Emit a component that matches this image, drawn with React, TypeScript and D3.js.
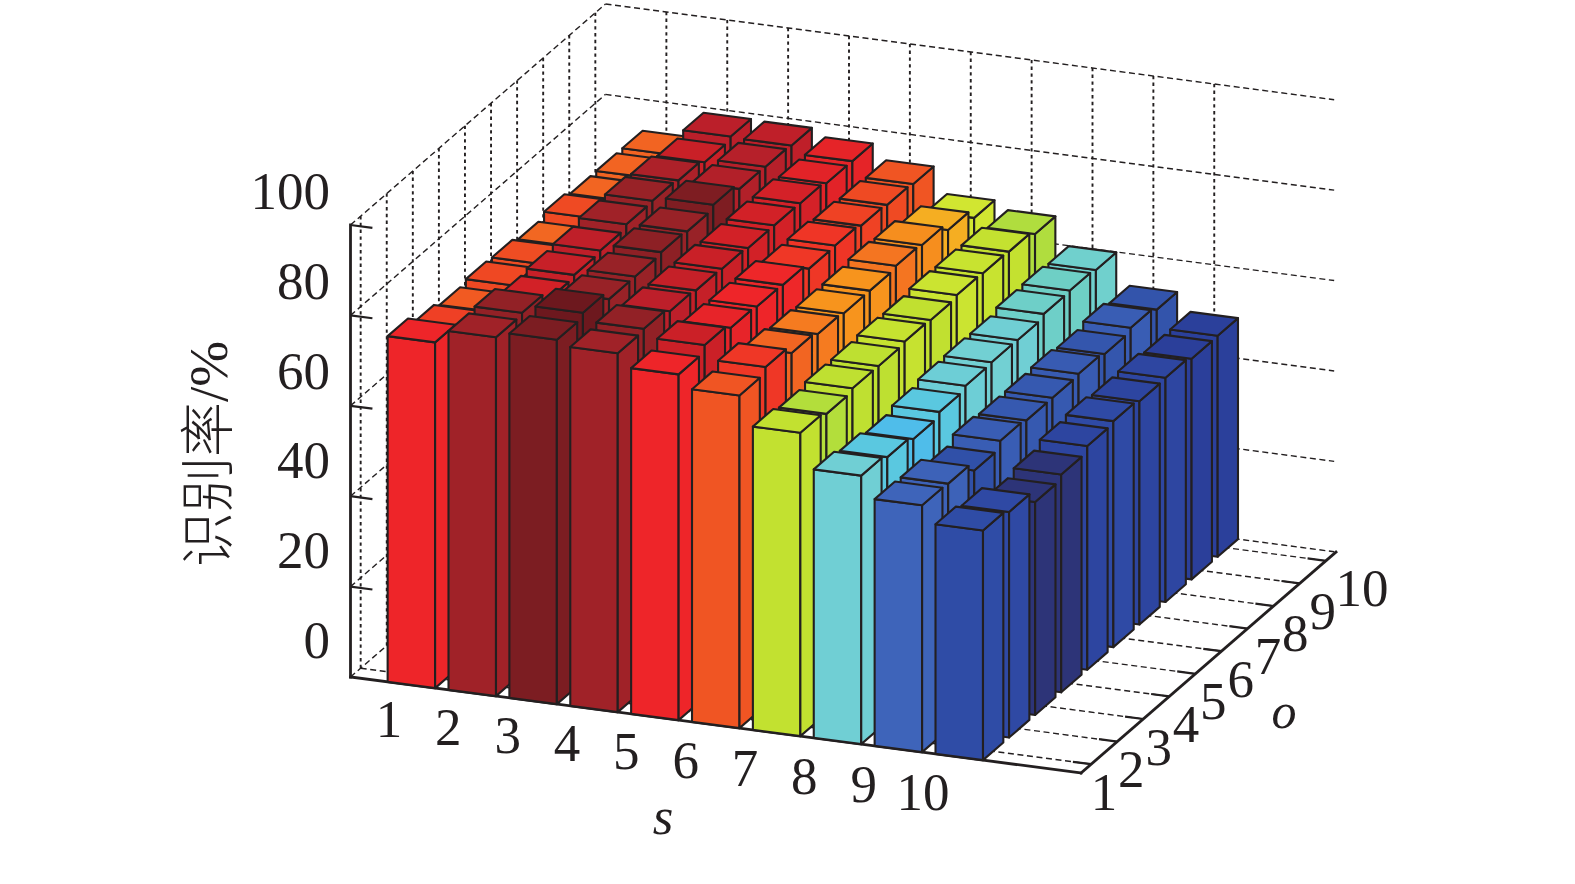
import React from "react";
import * as d3 from "d3";

// Recognition rate, one array per s, values ordered o = 1..10
const rateS1 = [76.5, 74.5, 73.4, 74.1, 73.9, 72.9, 74.0, 73.0, 73.05, 73.05];
const rateS2 = [79.4, 79.8, 77.7, 78.2, 78.6, 79.4, 79.6, 79.1, 78.1, 78.8];
const rateS3 = [80.6, 81.6, 79.6, 79.6, 80.0, 79.6, 80.5, 79.0, 78.9, 78.6];
const rateS4 = [79.4, 79.8, 78.7, 78.3, 78.1, 77.7, 77.7, 77.6, 77.0, 76.9];
const rateS5 = [76.5, 78.0, 76.8, 76.5, 76.3, 74.9, 75.0, 74.4, 74.0, 73.6];
const rateS6 = [73.6, 74.9, 73.0, 72.2, 71.8, 71.8, 72.3, 71.9, 70.2, 67.9];
const rateS7 = [67.1, 66.3, 66.95, 66.9, 67.3, 67.06, 67.6, 67.4, 67.2, 66.1];
const rateS8 = [59.4, 58.5, 57.5, 58.5, 59.3, 59.5, 59.4, 60.2, 60.35, 59.9];
const rateS9 = [54.6, 54.4, 52.3, 53.9, 53.4, 53.4, 53.7, 53.1, 53.9, 52.9];
const rateS10 = [50.8, 49.9, 47.1, 48.2, 49.5, 50.0, 49.4, 49.6, 48.8, 48.9];
const rates = [rateS1, rateS2, rateS3, rateS4, rateS5, rateS6, rateS7, rateS8, rateS9, rateS10];

const sTicks = [1, 2, 3, 4, 5, 6, 7, 8, 9, 10];
const oTicks = [1, 2, 3, 4, 5, 6, 7, 8, 9, 10];
const zTicks = [0, 20, 40, 60, 80, 100];

const colorValues = [47, 48.2, 48.8, 50, 52.5, 54.6, 57.5, 58.5, 59.5, 60.3, 66, 67, 67.9, 70.2, 71.8, 72.3, 73, 74, 75, 76.5, 78, 78.8, 79.5, 80.5, 81.6];
const colorStops = ["#2d3478", "#2d3478", "#2b3f9a", "#2f4aa5", "#3050a8", "#3e64ba", "#4fbdea", "#5ac8e0", "#72d0d3", "#6dcfc6", "#aedd3f", "#c0e030", "#d1e631", "#f5ae22", "#f7941d", "#f47521", "#f26522", "#ef4a23", "#ef3526", "#ee2529", "#cb2027", "#bb1f2a", "#9b2328", "#7e1d22", "#6d181e"];

const INK = "#231f20";
const SERIF = "'Liberation Serif', 'Times New Roman', serif";
const HALF = 0.39;

const sDomain = [0, 12];
const oDomain = [0.61, 10.39];
const zDomain = [0, 100];

const xS = d3.scaleLinear().domain(sDomain).range([350.5, 1081]);
const yS = d3.scaleLinear().domain(sDomain).range([677, 773]);
const xO = d3.scaleLinear().domain(oDomain).range([0, 255]);
const yO = d3.scaleLinear().domain(oDomain).range([0, -221]);
const yZ = d3.scaleLinear().domain(zDomain).range([0, -452]);
const color = d3.scaleLinear<string>().domain(colorValues).range(colorStops).interpolate(d3.interpolateRgb).clamp(true);

const sLabelX = d3.scaleLinear().domain([1, 10]).range([389, 923]);
const sLabelY = d3.scaleLinear().domain([1, 10]).range([719, 792]);
const oLabelX = d3.scaleLinear().domain([1, 10]).range([1104, 1350]);
const oLabelY = d3.scaleLinear().domain([1, 10]).range([792, 588]);
const zLabelY = d3.scaleLinear().domain([0, 100]).range([640, 191]);

type P = [number, number];
const project = (s: number, o: number, z: number): P => [xS(s) + xO(o), yS(s) + yO(o) + yZ(z)];
const segment = (a: P, b: P) => d3.line()([a, b]) as string;
const polygon = (pts: P[]) => (d3.line()(pts) as string) + "Z";

const [s0, s1] = sDomain;
const [o0, o1] = oDomain;
const [z0, z1] = zDomain;
const sWallEnd = s1 - 0.03;

const verticalGrid: string[] = [
  ...oTicks.map((o) => segment(project(s0, o, z0), project(s0, o, z1))),
  ...sTicks.map((s) => segment(project(s, o1, z0), project(s, o1, z1))),
];

const flatGrid: string[] = [
  ...zTicks.map((z) => segment(project(s0, o0, z), project(s0, o1, z))),
  ...zTicks.map((z) => segment(project(s0, o1, z), project(sWallEnd, o1, z))),
  ...oTicks.map((o) => segment(project(s0, o, z0), project(s1, o, z0))),
  ...sTicks.map((s) => segment(project(s, o0, z0), project(s, o1, z0))),
];

const axisLines: string[] = [
  segment(project(s0, o0, z0), project(s0, o0, z1)),
  segment(project(s0, o0, z0), project(s1, o0, z0)),
  segment(project(s1, o0, z0), project(s1, o1, z0)),
];

const tickLines: string[] = [
  ...zTicks.slice(1).map((z) => segment(project(s0, o0, z), project(0.36, o0, z))),
  ...oTicks.map((o) => segment(project(s1, o, z0), project(s1 - 0.3, o, z0))),
];

type Face = { key: string; d: string; fill: string };
const faces: Face[] = [];
// painter's order: far row first, then left to right
for (const o of [...oTicks].reverse()) {
  for (const s of sTicks) {
    const v = rates[s - 1][o - 1];
    const fill = color(v);
    const l = s - HALF, r = s + HALF, f = o - HALF, b = o + HALF;
    faces.push({ key: `f${s}-${o}`, fill, d: polygon([project(l, f, 0), project(r, f, 0), project(r, f, v), project(l, f, v)]) });
    faces.push({ key: `r${s}-${o}`, fill, d: polygon([project(r, f, 0), project(r, b, 0), project(r, b, v), project(r, f, v)]) });
    faces.push({ key: `t${s}-${o}`, fill, d: polygon([project(l, f, v), project(r, f, v), project(r, b, v), project(l, b, v)]) });
  }
}

export default function App() {
  return (
    <svg
      width={1575}
      height={884}
      viewBox="0 0 1575 884"
      style={{ position: "absolute", left: 0, top: 0, background: "#fff", display: "block" }}
    >
      <g fill="none" stroke={INK} strokeWidth={1.9} strokeDasharray="3.4 3.4">
        {verticalGrid.map((d, i) => <path key={i} d={d} />)}
      </g>
      <g fill="none" stroke={INK} strokeWidth={1.4} strokeDasharray="6 3.6">
        {flatGrid.map((d, i) => <path key={i} d={d} />)}
      </g>
      <g stroke={INK} strokeWidth={2.2} fill="none">
        {tickLines.map((d, i) => <path key={i} d={d} />)}
      </g>
      <g stroke={INK} strokeWidth={2.8} fill="none" strokeLinecap="square">
        {axisLines.map((d, i) => <path key={i} d={d} />)}
      </g>
      <g stroke={INK} strokeWidth={2.1} strokeLinejoin="round">
        {faces.map((f) => <path key={f.key} d={f.d} fill={f.fill} />)}
      </g>
      <g fontFamily={SERIF} fontSize={53} fill={INK} dominantBaseline="central">
        {zTicks.map((z) => (
          <text key={z} x={330} y={zLabelY(z)} textAnchor="end">{z}</text>
        ))}
        {sTicks.map((s) => (
          <text key={s} x={sLabelX(s)} y={sLabelY(s)} textAnchor="middle">{s}</text>
        ))}
        {oTicks.map((o) => (
          <text key={o} x={oLabelX(o) + (o > 9 ? 12 : 0)} y={oLabelY(o)} textAnchor="middle">{o}</text>
        ))}
        <text x={663} y={816} textAnchor="middle" fontStyle="italic">s</text>
        <text x={1284} y={711} textAnchor="middle" fontStyle="italic" fontSize={50}>o</text>
      </g>
      <text
        transform="translate(227,454) rotate(-90)"
        textAnchor="middle"
        fontSize={55}
        fill={INK}
      >
        <tspan fontFamily="'Noto Sans CJK SC'" fontWeight={300}>识别率</tspan>
        <tspan fontFamily={SERIF}>/%</tspan>
      </text>
    </svg>
  );
}
